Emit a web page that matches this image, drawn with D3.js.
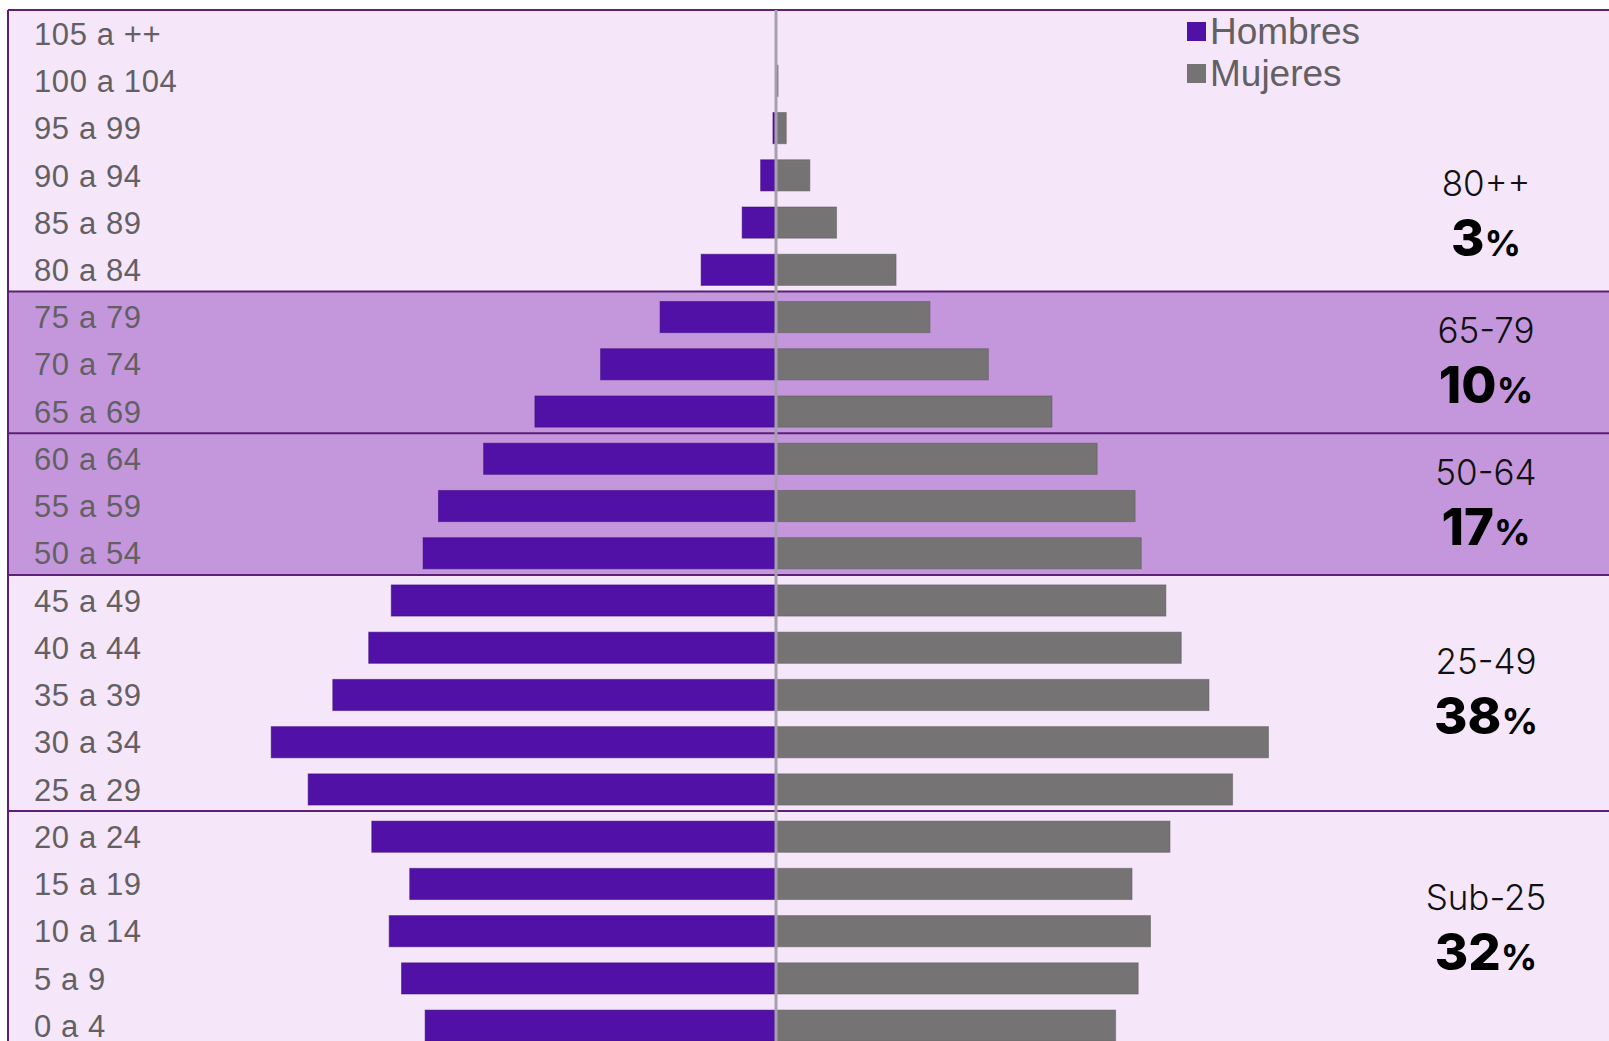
<!DOCTYPE html>
<html>
<head>
<meta charset="utf-8">
<script src="https://cdn.jsdelivr.net/npm/d3@7"></script>
<style>
  body { margin: 0; background: #ffffff; overflow: hidden; }
</style>
</head>
<body>
<script>
// age groups, top to bottom
const ages = ["105 a ++", "100 a 104", "95 a 99", "90 a 94", "85 a 89", "80 a 84",
              "75 a 79", "70 a 74", "65 a 69", "60 a 64", "55 a 59", "50 a 54",
              "45 a 49", "40 a 44", "35 a 39", "30 a 34", "25 a 29",
              "20 a 24", "15 a 19", "10 a 14", "5 a 9", "0 a 4"];

// (relative units)
const hombres = [0, 0.5, 3, 15, 33, 73, 113, 171, 235, 285, 329, 344,
                 375, 397, 432, 492, 456, 394, 357, 377, 365, 342];
const mujeres = [0, 2, 10, 33, 59, 117, 150, 207, 269, 313, 350, 356,
                 380, 395, 422, 480, 445, 384, 347, 365, 353, 331];

// summary groups on the right
const groupNames = ["80++", "65-79", "50-64", "25-49", "Sub-25"];
const groupPct = ["3", "10", "17", "38", "32"];
const groupFirst = ["105 a ++", "75 a 79", "60 a 64", "45 a 49", "20 a 24"];
const groupLast = ["80 a 84", "65 a 69", "50 a 54", "25 a 29", "0 a 4"];
const groupAnchor = ["85 a 89", "70 a 74", "55 a 59", "35 a 39", "10 a 14"];
const groupDark = [false, true, true, false, false];

const legendKeys = ["Hombres", "Mujeres"];

const W = 1609, H = 1041;
const colH = "#5211a6", colM = "#767374";
const light = "#f5e6fa", dark = "#c497dd", rule = "#5c2074";

const svg = d3.select("body")
              .append("svg")
              .attr("width", W)
              .attr("height", H)

const frameLeft = 8, frameTop = 10;
const center = 776;

const y = d3.scaleBand()
            .domain(ages)
            .range([frameTop, frameTop + 22 * 47.24])
            .paddingInner(0.34)
            .paddingOuter(0.17)

const x = d3.scaleLinear()
            .domain([0, 500])
            .range([0, 513])

const gap = y.step() - y.bandwidth();
const rowTop = (a) => y(a) - gap / 2;
const rowBottom = (a) => y(a) + y.bandwidth() + gap / 2;

// background panel
svg.append("rect")
   .attr("x", frameLeft)
   .attr("y", frameTop)
   .attr("width", W - frameLeft + 10)
   .attr("height", H)
   .attr("fill", light)

// darker bands
svg.selectAll(".band")
   .data(groupNames.map((g, i) => i).filter(i => groupDark[i]))
   .enter()
   .append("rect")
   .attr("class", "band")
   .attr("x", frameLeft)
   .attr("y", i => rowTop(groupFirst[i]) - 2)
   .attr("width", W)
   .attr("height", i => rowBottom(groupLast[i]) - rowTop(groupFirst[i]))
   .attr("fill", dark)

// bars
svg.selectAll(".bar-h")
   .data(ages)
   .enter()
   .append("rect")
   .attr("class", "bar-h")
   .attr("x", (d, i) => center - x(hombres[i]))
   .attr("y", d => y(d))
   .attr("width", (d, i) => x(hombres[i]))
   .attr("height", y.bandwidth())
   .attr("fill", colH)
   .attr("stroke", "#3a0a78")
   .attr("stroke-opacity", 0.5)
   .attr("stroke-width", 1)

svg.selectAll(".bar-m")
   .data(ages)
   .enter()
   .append("rect")
   .attr("class", "bar-m")
   .attr("x", center)
   .attr("y", d => y(d))
   .attr("width", (d, i) => x(mujeres[i]))
   .attr("height", y.bandwidth())
   .attr("fill", colM)
   .attr("stroke", "#5a5858")
   .attr("stroke-opacity", 0.5)
   .attr("stroke-width", 1)

// group dividers
svg.selectAll(".divider")
   .data(groupFirst.slice(1))
   .enter()
   .append("line")
   .attr("class", "divider")
   .attr("x1", frameLeft)
   .attr("x2", W)
   .attr("y1", d => rowTop(d) - 2)
   .attr("y2", d => rowTop(d) - 2)
   .attr("stroke", rule)
   .attr("stroke-width", 2)

// frame edges
svg.append("line")
   .attr("x1", frameLeft).attr("x2", frameLeft)
   .attr("y1", frameTop).attr("y2", H)
   .attr("stroke", rule)
   .attr("stroke-width", 2)
svg.append("line")
   .attr("x1", frameLeft).attr("x2", W)
   .attr("y1", frameTop).attr("y2", frameTop)
   .attr("stroke", rule)
   .attr("stroke-width", 2)

// centre axis
svg.append("line")
   .attr("x1", center).attr("x2", center)
   .attr("y1", frameTop).attr("y2", H)
   .attr("stroke", "#a79fae")
   .attr("stroke-width", 3)

// age labels
svg.selectAll(".age")
   .data(ages)
   .enter()
   .append("text")
   .attr("class", "age")
   .attr("x", 34)
   .attr("y", d => y(d) + y.bandwidth() / 2)
   .attr("dy", "0.36em")
   .text(d => d)
   .style("font-family", "'Liberation Sans', Arial, sans-serif")
   .style("font-size", "31px")
   .style("letter-spacing", "0.6px")
   .style("fill", "#626062")

// legend
const legend = svg.append("g").attr("id", "legend")
legendKeys.forEach((k, i) => {
    legend.append("rect")
          .attr("x", 1187)
          .attr("y", 22 + i * 42)
          .attr("width", 19)
          .attr("height", 19)
          .attr("fill", i === 0 ? colH : colM)
    legend.append("text")
          .attr("x", 1210)
          .attr("y", 44 + i * 42)
          .text(k)
          .style("font-family", "'Liberation Sans', Arial, sans-serif")
          .style("font-size", "37px")
          .style("fill", "#626062")
})

// right-hand summaries
groupNames.forEach((g, i) => {
    const cy = y(groupAnchor[i]) + y.bandwidth() / 2 - (i === 0 ? 6 : 0);
    svg.append("text")
       .attr("x", 1486)
       .attr("y", cy - 21)
       .attr("text-anchor", "middle")
       .text(g)
       .style("font-family", "Inter, 'Open Sans', sans-serif")
       .style("font-size", "35px")
       .style("font-weight", "300")
       .style("fill", "#111")
    const t = svg.append("text")
       .attr("x", 1486)
       .attr("y", cy + 39)
       .attr("text-anchor", "middle")
       .style("font-family", "Inter, 'Open Sans', sans-serif")
       .style("fill", "#000")
    t.append("tspan")
     .text(groupPct[i])
     .style("font-size", "51px")
     .style("font-weight", "800")
    t.append("tspan")
     .text("%")
     .style("font-size", "36px")
     .style("font-weight", "700")
})
</script>
</body>
</html>
